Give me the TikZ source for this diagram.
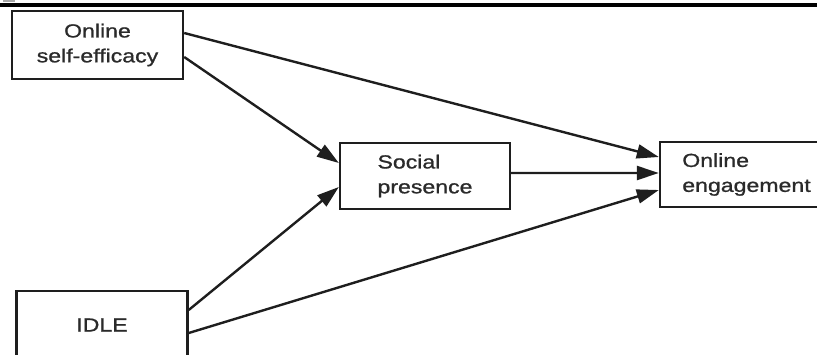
\documentclass[tikz,border=0pt]{standalone}
\usepackage{fontspec}
\setmainfont{Liberation Sans}[FakeStretch=1.22,FakeBold=1]
\usetikzlibrary{arrows.meta}
\definecolor{ink}{HTML}{1E1E1E}
\definecolor{txt}{HTML}{2A2A2A}
\tikzset{
  box/.style={draw=ink, line width=2.4bp, minimum width=171bp, minimum height=68bp,
    inner sep=0pt, text=txt, font=\fontsize{19}{25}\selectfont},
  link/.style={draw=ink, line width=2.4bp, -{Triangle[length=22bp,width=14bp]}}
}
\begin{document}
\begin{tikzpicture}[x=1bp,y=-1bp]
\useasboundingbox (0,0) rectangle (817,354);
\clip (0,0) rectangle (817,354);
\fill[black] (0,3) rectangle (817,6.5);
\fill[gray!70] (3,0) rectangle (15,1.5);
\node[box, align=center] (ose) at (97.5,45) {Online\\self-efficacy};
\node[box, align=center] (idle) at (102,325) {IDLE};
\node[box, align=left, minimum width=170bp, minimum height=66bp] (sp) at (425,176) {Social\\presence};
\node[box, align=left, minimum width=173bp, minimum height=65bp] (oe) at (746.5,174.5) {Online\\engagement};
\draw[link] ([yshift=12bp]ose.east) -- ([yshift=17.5bp]oe.west);
\draw[link] ([yshift=-12bp]ose.east) -- ([yshift=13bp]sp.west);
\draw[link] ([yshift=15bp]idle.east) -- ([yshift=-11bp]sp.west);
\draw[link] ([yshift=-8bp]idle.east) -- ([yshift=-15.5bp]oe.west);
\draw[link] ([yshift=3bp]sp.east) -- ([yshift=1.5bp]oe.west);
\end{tikzpicture}
\end{document}
